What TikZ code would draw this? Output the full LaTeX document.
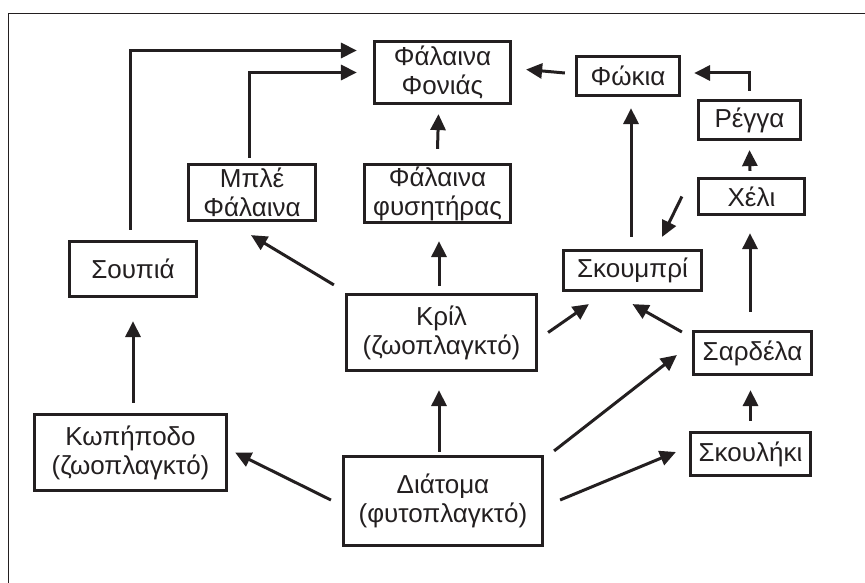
\documentclass[tikz,border=0pt]{standalone}
\usepackage{fontspec}
\setmainfont{Liberation Sans}
\usepackage{tikz}
\usetikzlibrary{arrows.meta}
\definecolor{ink}{HTML}{231F20}
\tikzset{
	boxstyle/.style={rectangle,draw=ink,text=ink,line width=3.2pt,inner sep=0pt,align=center},
	arrowstyle/.style={draw=ink,line width=3pt,-{Triangle[length=16pt,width=15pt]}},
	framestyle/.style={draw=ink,line width=1pt}
}
\begin{document}
\begin{tikzpicture}[x=1pt,y=-1pt]
		\fontsize{26}{29}\selectfont
		\useasboundingbox (0,0) rectangle (865,583);
		\draw[framestyle] (8,583) -- (8,14) -- (865,14);
		\node[boxstyle,minimum width=136pt,minimum height=62pt] (fonias) at (442.5,72.5) {Φάλαινα\\Φονιάς};
		\node[boxstyle,minimum width=103pt,minimum height=39pt] (fokia) at (628,76) {Φώκια};
		\node[boxstyle,minimum width=102pt,minimum height=39pt] (regga) at (749.5,120) {Ρέγγα};
		\node[boxstyle,minimum width=106pt,minimum height=36pt] (heli) at (751.5,196.5) {Χέλι};
		\node[boxstyle,minimum width=127pt,minimum height=56pt] (mple) at (252,192.5) {Μπλέ\\Φάλαινα};
		\node[boxstyle,minimum width=146pt,minimum height=58pt] (fysitiras) at (437.5,193.5) {Φάλαινα\\φυσητήρας};
		\node[boxstyle,minimum width=127pt,minimum height=55pt] (soupia) at (133,269) {Σουπιά};
		\node[boxstyle,minimum width=138pt,minimum height=40pt] (skoumpri) at (632.5,270.5) {Σκουμπρί};
		\node[boxstyle,minimum width=190pt,minimum height=76pt] (kril) at (441.5,332.5) {Κρίλ\\(ζωοπλαγκτό)};
		\node[boxstyle,minimum width=118pt,minimum height=43pt] (sardela) at (752.5,353) {Σαρδέλα};
		\node[boxstyle,minimum width=192pt,minimum height=76pt] (kopipodo) at (130.5,452.5) {Κωπήποδο\\(ζωοπλαγκτό)};
		\node[boxstyle,minimum width=120pt,minimum height=43pt] (skouliki) at (750.5,454) {Σκουλήκι};
		\node[boxstyle,minimum width=199pt,minimum height=89pt] (diatoma) at (443,501) {Διάτομα\\(φυτοπλαγκτό)};
		% to the killer whale
		\draw[arrowstyle] ([xshift=-3pt,yshift=10pt]soupia.north) |- ([xshift=-16pt,yshift=22pt]fonias.west);
		\draw[arrowstyle] ([xshift=-3pt,yshift=5pt]mple.north) |- ([xshift=-16pt]fonias.west);
		\draw[arrowstyle] ([yshift=14pt]fysitiras.north) -- ([xshift=-4pt,yshift=-9pt]fonias.south);
		\draw[arrowstyle] ([xshift=-10pt,yshift=3pt]fokia.west) -- ([xshift=14pt,yshift=3pt]fonias.east);
		% right column
		\draw[arrowstyle] ([yshift=8pt]regga.north) |- ([xshift=13pt,yshift=3pt]fokia.east);
		\draw[arrowstyle] ([xshift=-1.5pt,yshift=6pt]heli.north) -- ([yshift=-9pt]regga.south);
		\draw[arrowstyle] ([xshift=-2.5pt,yshift=18pt]sardela.north) -- ([xshift=-1.5pt,yshift=-17pt]heli.south);
		\draw[arrowstyle] ([yshift=10pt]skouliki.north) -- ([xshift=-2pt,yshift=-14pt]sardela.south);
		% mackerel
		\draw[arrowstyle] ([xshift=-1.5pt,yshift=12pt]skoumpri.north) -- ([xshift=3pt,yshift=-11pt]fokia.south);
		\draw[arrowstyle] ([xshift=-15pt]heli.west) -- ([xshift=-41pt,yshift=12pt]skoumpri.north east);
		\draw[arrowstyle] ([xshift=-10pt,yshift=21pt]sardela.west) -- ([yshift=-12pt]skoumpri.south);
		\draw[arrowstyle] ([xshift=10pt]kril.east) -- ([xshift=27pt,yshift=-12pt]skoumpri.south west);
		% krill
		\draw[arrowstyle] ([xshift=-2.5pt,yshift=7pt]kril.north) -- ([xshift=1.5pt,yshift=-17pt]fysitiras.south);
		\draw[arrowstyle] ([xshift=-11pt,yshift=8pt]kril.north west) -- ([xshift=-1pt,yshift=-13pt]mple.south);
		% diatoms
		\draw[arrowstyle] ([xshift=-4pt,yshift=3pt]diatoma.north) -- ([xshift=-2.5pt,yshift=-18pt]kril.south);
		\draw[arrowstyle] ([xshift=10pt,yshift=4pt]diatoma.north east) -- ([xshift=-15pt,yshift=-2pt]sardela.west);
		\draw[arrowstyle] ([xshift=16pt,yshift=1pt]diatoma.east) -- ([xshift=-13pt,yshift=2pt]skouliki.west);
		\draw[arrowstyle] ([xshift=-11pt,yshift=1pt]diatoma.west) -- ([xshift=7pt]kopipodo.east);
		\draw[arrowstyle] ([xshift=2.5pt,yshift=10pt]kopipodo.north) -- ([yshift=-23pt]soupia.south);
		\end{tikzpicture}
\end{document}
